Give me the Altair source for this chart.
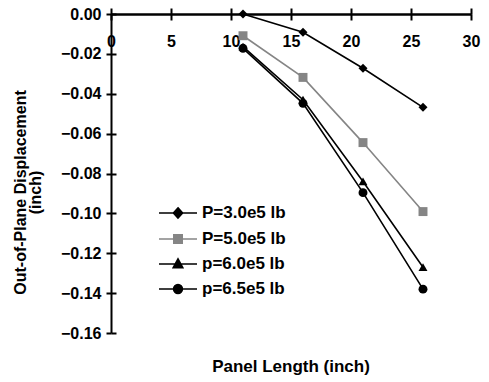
import altair as alt
import pandas as pd

# ---- data ----
panel_length = [11, 16, 21, 26]
series_names = ["P=3.0e5 lb", "P=5.0e5 lb", "p=6.0e5 lb", "p=6.5e5 lb"]
disp_p30 = [0.0, -0.0092, -0.0272, -0.0468]
disp_p50 = [-0.0109, -0.0318, -0.0645, -0.0991]
disp_p60 = [-0.0164, -0.0430, -0.0840, -0.1270]
disp_p65 = [-0.0172, -0.0448, -0.0896, -0.1380]
x_tick_values = [0, 5, 10, 15, 20, 25, 30]
y_tick_values = [0.0, -0.02, -0.04, -0.06, -0.08, -0.10, -0.12, -0.14, -0.16]

# ---- styles ----
series_colors = ["#000000", "#858585", "#000000", "#000000"]
point_shapes = ["diamond", "square", "triangle-up", "circle"]
legend_shapes = [
    "M-1.9,0H1.9M0,-0.51L0.46,0L0,0.51L-0.46,0Z",
    "M-1.9,0H1.9M-0.42,-0.42H0.42V0.42H-0.42Z",
    "M-1.9,0H1.9M0,-0.5L0.48,0.38L-0.48,0.38Z",
    "M-1.9,0H1.9M-0.44,0A0.44,0.44 0 1,0 0.44,0A0.44,0.44 0 1,0 -0.44,0Z",
]

rows = []
for name, vals in zip(series_names, [disp_p30, disp_p50, disp_p60, disp_p65]):
    for xv, yv in zip(panel_length, vals):
        rows.append({"Series": name, "Length": xv, "Disp": yv})
df = pd.DataFrame(rows)

W, H = 360, 319
FONT = "Liberation Sans"

x_scale = alt.Scale(domain=[0, 30], nice=False, zero=False)
y_scale = alt.Scale(domain=[-0.16, 0], nice=False, zero=False)

common_axis = dict(grid=False, domainColor="black", domainWidth=2, tickColor="black",
                   tickWidth=2, labelFont=FONT, labelFontWeight="bold",
                   labelColor="black", labelFontSize=16, labelFlush=False)

x_main_axis = alt.Axis(orient="bottom", offset=-H, values=x_tick_values, format="d",
                       tickSize=6, labelPadding=13, title=None, **common_axis)
y_main_axis = alt.Axis(orient="left", values=y_tick_values, format=".2f", tickSize=5,
                       labelPadding=5, title=["Out-of-Plane Displacement", "(inch)"],
                       titleFont=FONT, titleFontSize=16, titleFontWeight="bold",
                       titleColor="black", titleAngle=270, titleAlign="center",
                       titleBaseline="top", titleLineHeight=15, titleX=-99, titleY=178,
                       **common_axis)
x_top_axis = alt.Axis(orient="top", values=x_tick_values, tickSize=6, labels=False,
                      title=None, **common_axis)
y_right_axis = alt.Axis(orient="right", offset=-W, values=y_tick_values, tickSize=5,
                        labels=False, domain=False, title=None, **common_axis)

color_scale = alt.Scale(domain=series_names, range=series_colors)

legend_def = alt.Legend(orient="none", legendX=56, legendY=188, direction="vertical",
                        title=None, symbolSize=400, symbolStrokeWidth=1.6,
                        labelFont=FONT, labelFontSize=17, labelFontWeight="bold",
                        labelColor="black", labelOffset=13, rowPadding=6, padding=0)

lines = alt.Chart(df).mark_line(strokeWidth=1.6).encode(
    x=alt.X("Length:Q", scale=x_scale, axis=x_main_axis),
    y=alt.Y("Disp:Q", scale=y_scale, axis=y_main_axis),
    color=alt.Color("Series:N", scale=color_scale, legend=None),
    order="Length:Q",
)

points = alt.Chart(df).mark_point(filled=True, size=80, opacity=1).encode(
    x=alt.X("Length:Q", axis=None),
    y=alt.Y("Disp:Q", axis=None),
    color=alt.Color("Series:N", scale=color_scale, legend=None),
    shape=alt.Shape("Series:N", scale=alt.Scale(domain=series_names, range=point_shapes),
                    legend=None),
)

legend_layer = alt.Chart(df).transform_filter("false").mark_point(
    filled=True, strokeWidth=1.6, size=400, opacity=1
).encode(
    x=alt.X("Length:Q", axis=x_top_axis),
    y=alt.Y("Disp:Q", axis=y_right_axis),
    fill=alt.Fill("Series:N", scale=alt.Scale(domain=series_names, range=series_colors),
                  legend=legend_def),
    stroke=alt.Stroke("Series:N", scale=alt.Scale(domain=series_names, range=series_colors),
                      legend=legend_def),
    shape=alt.Shape("Series:N", scale=alt.Scale(domain=series_names, range=legend_shapes),
                    legend=legend_def),
)

chart = alt.layer(lines, points, legend_layer).resolve_scale(
    shape="independent", fill="independent", stroke="independent"
).resolve_axis(
    x="independent", y="independent"
).properties(
    width=W, height=H,
    padding={"left": 111, "top": 14, "right": 18, "bottom": 49},
    autosize=alt.AutoSizeParams(type="none"),
    title=alt.TitleParams(text="Panel Length (inch)", orient="bottom", anchor="middle",
                          font=FONT, fontSize=17, fontWeight="bold", color="black",
                          offset=18),
).configure_view(stroke=None)

chart.save("out.html", embed_options={"renderer": "svg", "actions": False})
